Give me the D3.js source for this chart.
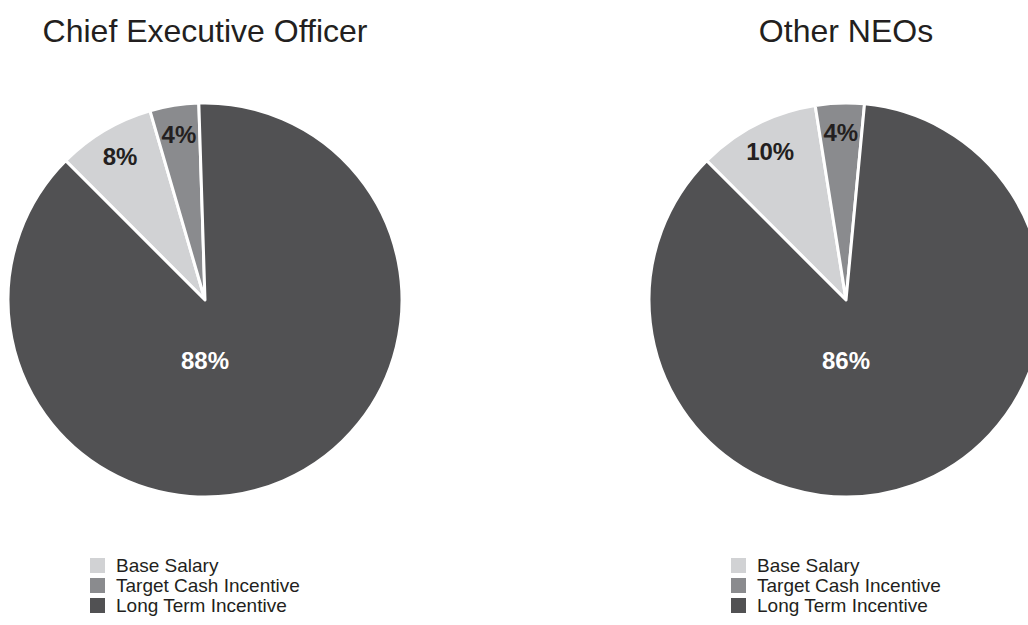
<!DOCTYPE html>
<html>
<head>
<meta charset="utf-8">
<script src="https://cdn.jsdelivr.net/npm/d3@7"></script>
<style>
    body { margin: 0; background: #fff; }
    svg text { font-family: "Liberation Sans", Arial, sans-serif; }
</style>
</head>
<body>
<svg class="canvas"></svg>
<script>
'use strict';
(function() {

    // data
    var categories = ['Base Salary', 'Target Cash Incentive', 'Long Term Incentive'];
    var ceoValues = [8, 4, 88];
    var neoValues = [10, 4, 86];
    var titles = ['Chief Executive Officer', 'Other NEOs'];
    var colors = ['#d1d2d4', '#8a8b8e', '#515153'];

    var width = 1028,
        height = 625,
        radius = 197,
        labelRadius = 167;

    var svg = d3.select('.canvas')
        .attr('width', width)
        .attr('height', height);

    var color = d3.scaleOrdinal()
        .domain(categories)
        .range(colors);

    // pie centres
    var scaleX = d3.scalePoint()
        .domain(titles)
        .range([205, 846]);

    var pie = d3.pie()
        .sort(null)
        .value(function(d) { return d.value; })
        .startAngle(-Math.PI / 4)
        .endAngle(2 * Math.PI - Math.PI / 4);

    var arc = d3.arc().innerRadius(0).outerRadius(radius);
    var labelArc = d3.arc().innerRadius(labelRadius).outerRadius(labelRadius);

    function drawPie(title, values) {
        var data = categories.map(function(c, i) {
            return {key: c, value: values[i]};
        });
        var maxVal = d3.max(values);
        var cx = scaleX(title);

        svg.append('text')
            .attr('x', cx)
            .attr('y', 42)
            .attr('text-anchor', 'middle')
            .attr('font-size', 32)
            .attr('fill', '#231f20')
            .text(title);

        var g = svg.append('g')
            .attr('transform', 'translate(' + cx + ',300)');

        var arcs = pie(data);

        g.selectAll('path')
            .data(arcs)
            .enter().append('path')
            .attr('d', arc)
            .attr('fill', function(d) { return color(d.data.key); })
            .attr('stroke', '#fff')
            .attr('stroke-width', 3)
            .attr('stroke-linejoin', 'round');

        g.selectAll('text.lbl')
            .data(arcs)
            .enter().append('text')
            .attr('class', 'lbl')
            .attr('transform', function(d) {
                // biggest slice label sits below the centre
                if (d.data.value === maxVal) return 'translate(0,' + (radius * 0.31) + ')';
                return 'translate(' + labelArc.centroid(d) + ')';
            })
            .attr('dy', '0.35em')
            .attr('text-anchor', 'middle')
            .attr('font-size', 24)
            .attr('font-weight', 'bold')
            .attr('fill', function(d) { return d.data.value === maxVal ? '#fff' : '#231f20'; })
            .text(function(d) { return d.data.value + '%'; });

        // legend
        var legend = svg.append('g')
            .attr('transform', 'translate(' + (cx - 115) + ',558)');

        var rows = legend.selectAll('g')
            .data(categories)
            .enter().append('g')
            .attr('transform', function(d, i) { return 'translate(0,' + (i * 20) + ')'; });

        rows.append('rect')
            .attr('width', 15)
            .attr('height', 15)
            .attr('fill', function(d) { return color(d); });

        rows.append('text')
            .attr('x', 26)
            .attr('y', 14)
            .attr('font-size', 19)
            .attr('fill', '#231f20')
            .text(function(d) { return d; });
    }

    drawPie(titles[0], ceoValues);
    drawPie(titles[1], neoValues);

})();
</script>
</body>
</html>
